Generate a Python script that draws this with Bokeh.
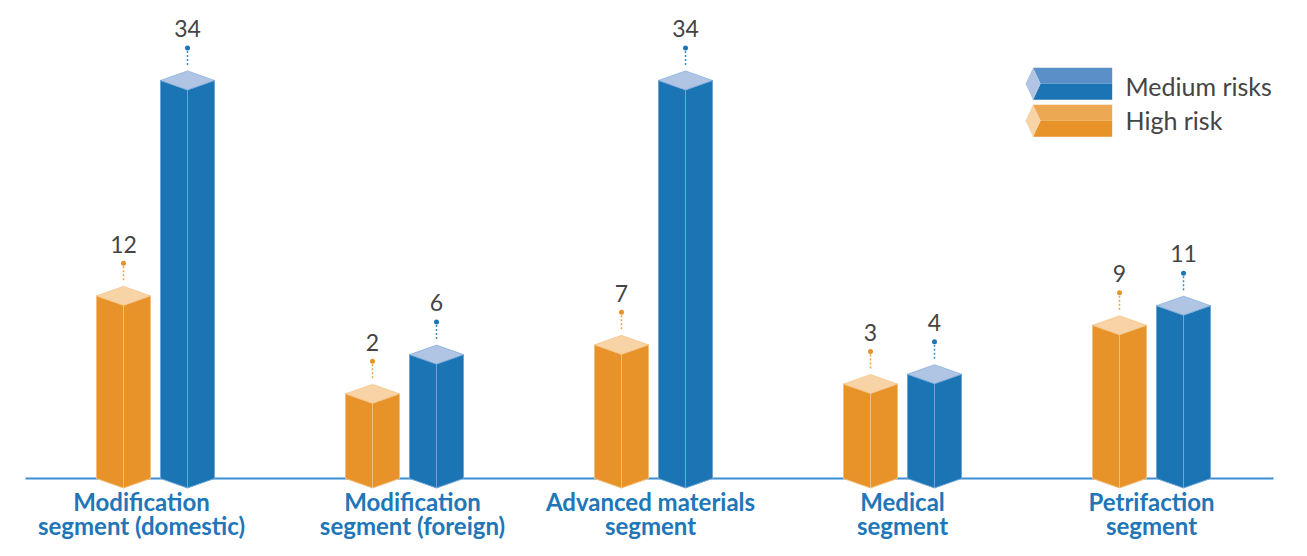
from bokeh.plotting import figure
from bokeh.models import Range1d
from bokeh.embed import file_html
from bokeh.resources import INLINE
from bokeh.core.properties import value

# ---------------- data ----------------
categories = [
    "Modification\nsegment (domestic)",
    "Modification\nsegment (foreign)",
    "Advanced materials\nsegment",
    "Medical\nsegment",
    "Petrifaction\nsegment",
]
high_risk = [12, 2, 7, 3, 9]
medium_risks = [34, 6, 34, 4, 11]
series_names = ["Medium risks", "High risk"]

# ---------------- styling / layout ----------------
W, H = 1291, 540
GROUP_PX = 249.0      # px between group centres
X0_PX = 155.0         # frame x of first group centre
BASE_PX = 478.0       # frame y of baseline (from top)
PX_PER_UNIT = 9.793   # vertical scale
BASE = -6.65          # value of the chart floor
BL = 0.4              # svg alphabetic-baseline compensation (em)
LABEL_NUDGE_PX = [-14, 8, -3, 0, 0]   # horizontal label nudges (styling)

x_start = -X0_PX / GROUP_PX
x_end = x_start + W / GROUP_PX
y_end = BASE + BASE_PX / PX_PER_UNIT
y_start = y_end - H / PX_PER_UNIT


def dx(px):
    return px / GROUP_PX


def dy(px):
    return px / PX_PER_UNIT


def fx(px):
    return x_start + px / GROUP_PX


def fy(px):
    return y_end - px / PX_PER_UNIT


ORANGE = "#E8922A"
ORANGE_TOP = "#F7D3A6"
ORANGE_EDGE = "#F3BF7F"
ORANGE_MID = "#EDA853"
BLUE = "#1B75B4"
BLUE_TOP = "#B0C4E3"
BLUE_EDGE = "#6EA5D6"
BLUE_MID = "#5A8FC8"
TEXT = "#444444"
CAT = "#2176B8"
FONT = value("Lato")

p = figure(width=W, height=H, x_range=Range1d(x_start, x_end),
           y_range=Range1d(y_start, y_end), output_backend="svg",
           toolbar_location=None, min_border=0,
           x_axis_location=None, y_axis_location=None)
p.grid.visible = False
p.outline_line_color = None
p.background_fill_color = "white"

# baseline
p.segment(x0=[fx(25)], y0=[BASE], x1=[fx(1273)], y1=[BASE],
          line_color="#3B8FD3", line_width=2)

hw = dx(27)
d = dy(9.5)
OFF = dx(32)

series = [
    (high_risk, -OFF, ORANGE, ORANGE_TOP, ORANGE_EDGE),
    (medium_risks, OFF, BLUE, BLUE_TOP, BLUE_EDGE),
]

VAL_FS = 23
for vals, off, col, top, edge in series:
    lx, ly, rx, ry, tx, ty = [], [], [], [], [], []
    cx = []
    for i, v in enumerate(vals):
        xc = i + off
        cx.append(xc)
        lx.append([xc - hw, xc - hw, xc, xc])
        ly.append([BASE, v, v - d, BASE - d])
        rx.append([xc, xc, xc + hw, xc + hw])
        ry.append([BASE - d, v - d, v, BASE])
        tx.append([xc - hw, xc, xc + hw, xc])
        ty.append([v, v + d, v, v - d])
    p.patches(lx, ly, fill_color=col, line_color=edge, line_width=1)
    p.patches(rx, ry, fill_color=col, line_color=edge, line_width=1)
    p.patches(tx, ty, fill_color=top, line_color=edge, line_width=1, line_alpha=0.6)
    # leaders
    p.segment(x0=cx, y0=[v + d + dy(6) for v in vals], x1=cx,
              y1=[v + d + dy(21) for v in vals], line_color=col,
              line_width=1.5, line_dash="2 2", line_alpha=0.85)
    p.scatter(x=cx, y=[v + d + dy(23) for v in vals], size=5,
              fill_color=col, line_color=None)
    p.text(x=cx, y=[v + d + dy(33 + BL * VAL_FS) for v in vals],
           text=[str(v) for v in vals],
           text_align="center", text_baseline="alphabetic",
           text_font=FONT, text_font_size=f"{VAL_FS}px", text_color=TEXT)

# category labels
CAT_FS = 24
line1 = [c.split("\n")[0] for c in categories]
line2 = [c.split("\n")[1] for c in categories]
gx = [i + dx(n) for i, n in enumerate(LABEL_NUDGE_PX)]
p.text(x=gx, y=[fy(511 - BL * CAT_FS)] * len(gx), text=line1, text_align="center",
       text_baseline="alphabetic", text_font=FONT, text_font_size=f"{CAT_FS}px",
       text_font_style="bold", text_color=CAT)
p.text(x=gx, y=[fy(535 - BL * CAT_FS)] * len(gx), text=line2, text_align="center",
       text_baseline="alphabetic", text_font=FONT, text_font_size=f"{CAT_FS}px",
       text_font_style="bold", text_color=CAT)

# legend
LEG_FS = 25
leg = [
    (series_names[0], 0.0, 95.0, BLUE_MID, BLUE, BLUE_TOP),
    (series_names[1], 37.0, 129.0, ORANGE_MID, ORANGE, ORANGE_TOP),
]
for name, oy, tb, upper, lower, cap in leg:
    top_y, mid_y, bot_y = 67.3 + oy, 83.3 + oy, 99.3 + oy
    p.patch([fx(1032.5), fx(1111.7), fx(1111.7), fx(1040)],
            [fy(top_y), fy(top_y), fy(mid_y), fy(mid_y)],
            fill_color=upper, line_color=None)
    p.patch([fx(1040), fx(1111.7), fx(1111.7), fx(1032.5)],
            [fy(mid_y), fy(mid_y), fy(bot_y), fy(bot_y)],
            fill_color=lower, line_color=None)
    p.patch([fx(1025), fx(1032.5), fx(1040), fx(1032.5)],
            [fy(mid_y), fy(top_y), fy(mid_y), fy(bot_y)],
            fill_color=cap, line_color=None)
    p.text(x=[fx(1125)], y=[fy(tb - BL * LEG_FS)], text=[name], text_align="left",
           text_baseline="alphabetic", text_font=FONT, text_font_size=f"{LEG_FS}px",
           text_color=TEXT)

open("out.html", "w").write(file_html(p, INLINE))
